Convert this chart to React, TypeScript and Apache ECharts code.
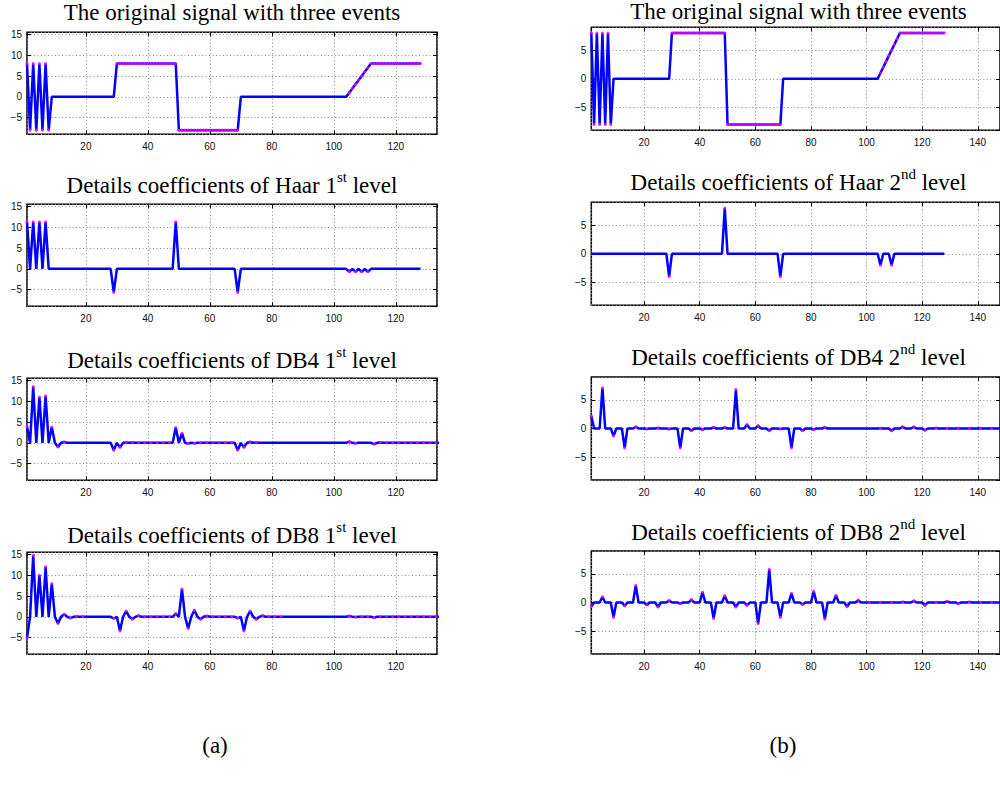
import React, { useEffect, useRef } from 'react';
import * as echarts from 'echarts';

// Original signal, samples 1..128
const SIGNAL = [
  8, -8, 8, -8, 8, -8, 8, -8,
  0, 0, 0, 0, 0, 0, 0, 0, 0, 0, 0, 0, 0, 0, 0, 0, 0, 0, 0, 0, 0,
  8, 8, 8, 8, 8, 8, 8, 8, 8, 8, 8, 8, 8, 8, 8, 8, 8, 8, 8, 8,
  -8, -8, -8, -8, -8, -8, -8, -8, -8, -8, -8, -8, -8, -8, -8, -8, -8, -8, -8, -8,
  0, 0, 0, 0, 0, 0, 0, 0, 0, 0, 0, 0, 0, 0, 0, 0, 0, 0, 0, 0, 0, 0, 0, 0, 0, 0, 0, 0, 0, 0, 0, 0, 0, 0, 0,
  1, 2, 3, 4, 5, 6, 7, 8,
  8, 8, 8, 8, 8, 8, 8, 8, 8, 8, 8, 8, 8, 8, 8, 8,
];

// Level-1 detail coefficients (placed at positions 1,3,5,...)
const HAAR_1 = [
  11.31, 11.31, 11.31, 11.31, 0, 0, 0, 0, 0, 0, 0, 0, 0, 0,
  -5.66, 0, 0, 0, 0, 0, 0, 0, 0, 0,
  11.31, 0, 0, 0, 0, 0, 0, 0, 0, 0,
  -5.66, 0, 0, 0, 0, 0, 0, 0, 0, 0, 0, 0, 0, 0, 0, 0, 0, 0,
  -0.71, -0.71, -0.71, -0.71, 0, 0, 0, 0, 0, 0, 0, 0,
];
const DB4_1 = [
  3.9, 13.5, 11.0, 11.3, 3.8, -1.0, 0.2,
  0, 0, 0, 0, 0, 0, 0,
  -1.8, -1.1, 0.1, 0.1, 0.05, 0.03, 0.03, 0.03, 0.03, 0.03,
  3.7, 2.3, -0.2, -0.1, 0.03, 0.03, 0.03, 0.03, 0.03, 0.03,
  -1.8, -1.1, 0.2, 0.1,
  0, 0, 0, 0, 0, 0, 0, 0, 0, 0, 0, 0, 0, 0,
  0.3, -0.1, 0, 0, -0.3, 0.1,
  0.03, 0.03, 0.03, 0.03, 0.03, 0.03, 0.03, 0.03, 0.03,
];
const DB8_1 = [
  -5.1, 14.8, 10.0, 12.0, 8.0, -1.6, 0.6, -0.3, 0.1, 0.05,
  0, 0, 0, 0,
  -0.4, -3.4, 1.4, -0.6, 0.3, 0.03, 0.03, 0.03, 0.03, 0.03,
  0.8, 6.7, -2.8, 1.6, -0.6, 0.2, 0.03, 0.03, 0.03, 0.03,
  -0.3, -3.4, 1.4, -0.6, 0.3, 0.03, 0.03, 0.03,
  0, 0, 0, 0, 0, 0, 0, 0, 0, 0,
  0.2, -0.05, 0.03, 0.03, -0.2, 0.05,
  0.03, 0.03, 0.03, 0.03, 0.03, 0.03, 0.03, 0.03, 0.03, 0.03, 0.03, 0.03, 0.03,
];

// Level-2 detail coefficients (placed at positions 1,5,9,...)
const HAAR_2 = [
  0, 0, 0, 0, 0, 0, 0, -4, 0, 0, 0, 0, 8, 0, 0, 0, 0, -4,
  0, 0, 0, 0, 0, 0, 0, 0, -2, -2, 0, 0, 0, 0,
];
const DB4_2 = [
  2.2, 7.1, -1.3, -3.4, 0.3, -0.1, 0.1, -0.1, -3.4, -0.4, -0.2, 0.2, 0.2,
  6.8, 0.7, 0.5, -0.4, -0.1, -3.4, -0.4, -0.2, 0.2, 0, 0, 0, 0,
  0.03, -0.4, 0.3, 0.3, -0.3, 0.1, 0.03, 0.03, 0.03, 0.03, 0.03,
];
const DB8_2 = [
  -0.7, 1.0, -2.6, -0.6, 3.0, -0.45, -0.8, 0.35, -0.2, 0.5, 1.8, -2.8, 1.2,
  -0.8, -0.5, -3.7, 5.8, -2.6, 1.6, -0.35, 1.95, -2.9, 1.25, -0.75, 0.4,
  0.03, 0.03, 0.03, 0.1, 0.3, -0.5, 0.03, 0.2, -0.2, 0.1, 0.03, 0.03,
  0, 0, 0, 0, 0, 0,
];

const LEFT_TITLES = [
  ['The original signal with three events', '', ''],
  ['Details coefficients of Haar 1', 'st', ' level'],
  ['Details coefficients of DB4 1', 'st', ' level'],
  ['Details coefficients of DB8 1', 'st', ' level'],
];
const RIGHT_TITLES = [
  ['The original signal with three events', '', ''],
  ['Details coefficients of Haar 2', 'nd', ' level'],
  ['Details coefficients of DB4 2', 'nd', ' level'],
  ['Details coefficients of DB8 2', 'nd', ' level'],
];
const CAPTIONS = ['(a)', '(b)'];

function upsample(coefs: number[], factor: number): number[][] {
  const out: number[][] = [];
  coefs.forEach((v, k) => {
    for (let j = 0; j < factor; j++) out.push([k * factor + 1 + j, j === 0 ? v : 0]);
  });
  return out;
}
function markers(coefs: number[], factor: number): number[][] {
  return coefs.map((v, k) => [k * factor + 1, v]).filter((p) => p[1] !== 0);
}

const signalLine = SIGNAL.map((v, i) => [i + 1, v]);
const signalDots = signalLine.filter((p) => p[1] !== 0);

export default function App() {
  const ref = useRef<HTMLDivElement>(null);
  useEffect(() => {
    const chart = echarts.init(ref.current!, null, { renderer: 'svg' });

    const leftTops = [32.3, 204.3, 378.3, 552.3];
    const rightTops = [27.3, 202.3, 377, 551];
    // row 0 titles use lineHeight 23, others 33 (room for the superscript)
    const leftTitleTops = [0.7, 169, 344, 519];
    const rightTitleTops = [0, 166.4, 341.4, 516.4];

    const panels = [
      { col: 0, row: 0, blue: signalLine, mag: signalDots, t: LEFT_TITLES[0] },
      { col: 0, row: 1, blue: upsample(HAAR_1, 2), mag: markers(HAAR_1, 2), t: LEFT_TITLES[1] },
      { col: 0, row: 2, blue: upsample(DB4_1, 2), mag: markers(DB4_1, 2), t: LEFT_TITLES[2] },
      { col: 0, row: 3, blue: upsample(DB8_1, 2), mag: markers(DB8_1, 2), t: LEFT_TITLES[3] },
      { col: 1, row: 0, blue: signalLine, mag: signalDots, t: RIGHT_TITLES[0] },
      { col: 1, row: 1, blue: upsample(HAAR_2, 4), mag: markers(HAAR_2, 4), t: RIGHT_TITLES[1] },
      { col: 1, row: 2, blue: upsample(DB4_2, 4), mag: markers(DB4_2, 4), t: RIGHT_TITLES[2] },
      { col: 1, row: 3, blue: upsample(DB8_2, 4), mag: markers(DB8_2, 4), t: RIGHT_TITLES[3] },
    ];

    const grid: any[] = [];
    const xAxis: any[] = [];
    const yAxis: any[] = [];
    const series: any[] = [];
    const title: any[] = [];

    const labelFont = { fontFamily: 'Liberation Sans', fontSize: 10, color: '#111' };
    const splitStyle = { show: true, lineStyle: { type: [1, 2.5], color: '#8a8a8a', width: 1 } };
    const tickStyle = { show: true, inside: true, length: 4, lineStyle: { color: '#000' } };

    panels.forEach((p, i) => {
      const left = p.col === 0;
      const gLeft = left ? 27 : 591.3;
      const gWidth = left ? 410 : 414.5;
      const gTop = left ? leftTops[p.row] : rightTops[p.row];
      const gHeight = left ? 102 : 103;
      grid.push({ left: gLeft, top: gTop, width: gWidth, height: gHeight, show: true, borderColor: '#000', borderWidth: 1.5, backgroundColor: 'transparent', containLabel: false });
      xAxis.push({
        type: 'value', gridIndex: i, position: 'bottom', min: 1, max: left ? 133.3 : 148, splitNumber: 7,
        axisLine: { show: false, onZero: false },
        axisTick: tickStyle,
        axisLabel: { ...labelFont, margin: 7, showMinLabel: false, showMaxLabel: false },
        splitLine: splitStyle,
      });
      yAxis.push({
        type: 'value', gridIndex: i, position: 'left', min: -9, max: left ? 15.5 : 9, splitNumber: left ? 5 : 4,
        axisLine: { show: false, onZero: false },
        axisTick: tickStyle,
        axisLabel: {
          ...labelFont, margin: 5, showMinLabel: false, showMaxLabel: false,
          formatter: (v: number) => (v < 0 ? '\u2212' + Math.abs(v) : String(v)),
        },
        splitLine: splitStyle,
      });
      series.push({
        type: 'line', xAxisIndex: i, yAxisIndex: i, data: p.blue, showSymbol: false, symbol: 'none',
        lineStyle: { color: '#0000ff', width: 2.5 }, z: 2, silent: true, clip: true,
      });
      series.push({
        type: 'scatter', xAxisIndex: i, yAxisIndex: i, data: p.mag, symbol: 'circle', symbolSize: 3,
        itemStyle: { color: '#ff00ff' }, z: 3, silent: true, clip: true,
      });
      const [a, sup, b] = p.t;
      const text = sup ? `{m|${a}}{s|${sup}}{m|${b}}` : `{m|${a}}`;
      title.push({
        text,
        left: left ? 232 : 798.5,
        top: left ? leftTitleTops[p.row] : rightTitleTops[p.row],
        textAlign: 'center',
        textVerticalAlign: 'top',
        padding: 0,
        textStyle: {
          fontWeight: 'normal',
          rich: {
            m: { fontFamily: 'Liberation Serif', fontSize: 23, fontWeight: 'normal', lineHeight: p.row === 0 ? 23 : 33, color: '#000' },
            s: { fontFamily: 'Liberation Serif', fontSize: 15, fontWeight: 'normal', lineHeight: 15, verticalAlign: 'top', color: '#000' },
          },
        },
      });
    });

    // mirror axes on top / right carrying the inward ticks of the box
    panels.forEach((p, i) => {
      const left = p.col === 0;
      xAxis.push({
        type: 'value', gridIndex: i, position: 'top', min: 1, max: left ? 133.3 : 148, splitNumber: 7,
        axisLine: { show: false, onZero: false }, axisTick: tickStyle, axisLabel: { show: false }, splitLine: { show: false },
      });
      yAxis.push({
        type: 'value', gridIndex: i, position: 'right', min: -9, max: left ? 15.5 : 9, splitNumber: left ? 5 : 4,
        axisLine: { show: false, onZero: false }, axisTick: tickStyle, axisLabel: { show: false }, splitLine: { show: false },
      });
    });

    const option: any = {
      animation: false,
      backgroundColor: '#fff',
      title,
      grid,
      xAxis,
      yAxis,
      series,
      graphic: [
        { type: 'text', x: 215, y: 745, style: { text: CAPTIONS[0], font: '23px "Liberation Serif"', fill: '#000', align: 'center', verticalAlign: 'middle' } },
        { type: 'text', x: 783, y: 745, style: { text: CAPTIONS[1], font: '23px "Liberation Serif"', fill: '#000', align: 'center', verticalAlign: 'middle' } },
      ],
    };
    chart.setOption(option);
    return () => chart.dispose();
  }, []);
  return <div ref={ref} style={{ position: 'absolute', left: 0, top: 0, width: 1000, height: 791, background: '#fff' }} />;
}
